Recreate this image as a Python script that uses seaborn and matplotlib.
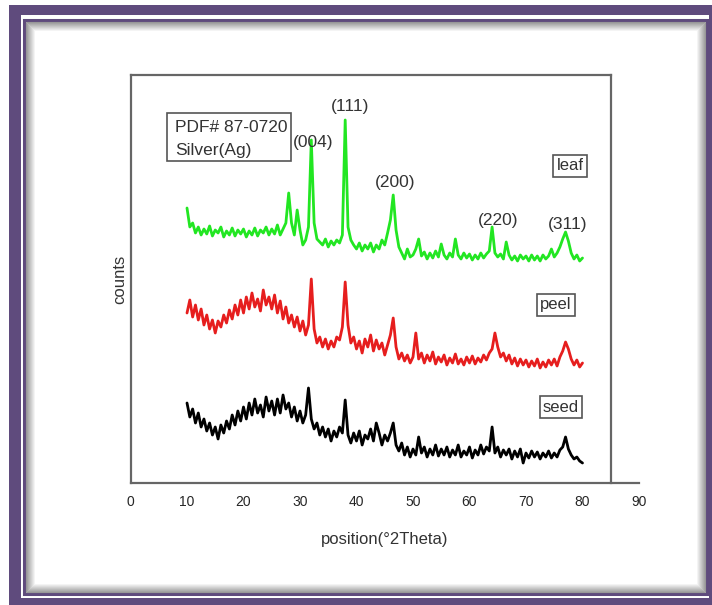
import numpy as np
import pandas as pd
import seaborn as sns
import matplotlib.pyplot as plt
from matplotlib.patches import Rectangle

# 2theta grid, 10..80 step 0.5 (141 points)
theta = np.linspace(10, 80, 141)

leaf = [277, 258, 262, 252, 258, 250, 256, 251, 259, 249,
        255, 252, 258, 248, 254, 250, 257, 249, 255, 251,
        256, 248, 254, 250, 257, 249, 255, 252, 258, 250,
        256, 251, 260, 250, 256, 262, 292, 262, 250, 275,
        255, 240, 245, 258, 345, 262, 246, 243, 240, 246,
        238, 244, 240, 245, 242, 250, 365, 258, 245, 240,
        236, 242, 234, 240, 236, 242, 233, 240, 236, 245,
        240, 252, 265, 290, 255, 238, 232, 226, 236, 228,
        230, 236, 246, 229, 233, 226, 232, 227, 234, 228,
        241, 230, 226, 232, 228, 246, 230, 226, 232, 227,
        231, 225, 230, 226, 232, 227, 231, 234, 258, 232,
        228, 231, 226, 243, 230, 225, 229, 224, 230, 226,
        229, 224, 230, 225, 229, 224, 230, 226, 229, 236,
        228, 232, 238, 246, 253, 244, 232, 226, 230, 224,
        227]

peel = [172, 185, 168, 180, 165, 176, 160, 170, 156, 165,
        152, 164, 158, 170, 162, 175, 166, 180, 170, 185,
        172, 188, 176, 192, 178, 186, 174, 195, 180, 188,
        176, 190, 172, 184, 166, 178, 162, 170, 158, 168,
        154, 164, 150, 160, 206, 156, 142, 148, 138, 146,
        136, 144, 138, 148, 145, 158, 203, 160, 142, 148,
        136, 144, 132, 146, 138, 150, 134, 145, 136, 142,
        130, 140, 150, 167, 138, 126, 132, 124, 130, 122,
        128, 152, 126, 132, 122, 130, 124, 133, 121, 128,
        123, 130, 120, 127, 122, 131, 121, 126, 120, 128,
        122, 129, 121, 127, 123, 130, 125, 132, 136, 152,
        138, 128, 132, 124, 130, 121, 127, 119, 126, 120,
        125, 118, 124, 119, 126, 117, 123, 118, 125, 120,
        126, 119, 128, 134, 143, 136, 126, 120, 125, 118,
        122]

seed = [82, 68, 76, 62, 72, 58, 66, 54, 62, 50,
        58, 46, 60, 52, 64, 56, 70, 60, 74, 64,
        78, 66, 82, 70, 86, 72, 80, 68, 88, 74,
        84, 70, 86, 72, 90, 76, 82, 68, 78, 64,
        74, 62, 70, 97, 66, 56, 62, 50, 58, 48,
        56, 44, 54, 48, 58, 52, 85, 50, 42, 52,
        44, 54, 40, 50, 46, 56, 44, 62, 52, 40,
        50, 44, 52, 62, 40, 34, 42, 30, 38, 28,
        36, 30, 48, 32, 38, 28, 36, 30, 40, 29,
        36, 30, 38, 28, 35, 30, 40, 28, 34, 30,
        38, 27, 35, 30, 40, 31, 38, 34, 58, 32,
        38, 28, 35, 30, 36, 26, 34, 28, 36, 22,
        32, 27, 34, 28, 33, 26, 32, 28, 34, 27,
        32, 28, 35, 38, 48, 36, 30, 26, 28, 24,
        22]

samples = ['leaf', 'peel', 'seed']
colors = {'leaf': '#22e622', 'peel': '#e61e1e', 'seed': '#000000'}

peak_labels = ['(111)', '(004)', '(200)', '(220)', '(311)']
peak_x = [38.8, 32.3, 46.8, 65.0, 77.3]
peak_y = [378, 343, 303, 265, 260]

df = pd.concat([
    pd.DataFrame({'theta': theta, 'counts': vals, 'sample': name})
    for name, vals in zip(samples, [leaf, peel, seed])
])

sns.set_style('white')
plt.rcParams['font.family'] = ['Liberation Sans', 'DejaVu Sans']

W, H = 712, 605
fig = plt.figure(figsize=(W / 100, H / 100), dpi=100)
fig.patch.set_facecolor('white')


def px_rect(x0, y0, x1, y1, **kw):
    # pixel box (top-left origin) -> figure rectangle
    r = Rectangle((x0 / W, 1 - y1 / H), (x1 - x0) / W, (y1 - y0) / H,
                  transform=fig.transFigure, zorder=-10, **kw)
    fig.add_artist(r)


purple = '#5f4b7d'
px_rect(9, 5, 720, 615, facecolor=purple, edgecolor='none')
px_rect(21, 15, 709, 598, facecolor='white', edgecolor='none')
px_rect(24, 20, 707, 594, facecolor='white', edgecolor=purple, lw=2.2)
# soft shadow inside the frame
for i in range(1, 11):
    g = min(1.0, 0.55 + 0.045 * i)
    px_rect(25 + i, 21 + i, 706 - i, 593 - i, facecolor='none',
            edgecolor=(g, g, g), lw=0.8)

ax = fig.add_axes([130.5 / W, 1 - 483 / H, 508.5 / W, 408 / H])
ax.patch.set_alpha(0)

sns.lineplot(data=df, x='theta', y='counts', hue='sample', palette=colors,
             estimator=None, sort=False, legend=False, lw=2.0, ax=ax)

ax.set_xlim(0, 90)
ax.set_ylim(2, 410)
ax.set_xticks(range(0, 91, 10))
ax.set_xticks(range(5, 90, 10), minor=True)
ax.set_yticks([])
ax.tick_params(axis='x', which='major', direction='out', length=5, width=1.2,
               color='#555555', labelsize=10, pad=4)
ax.tick_params(axis='x', which='minor', direction='out', length=3, width=1,
               color='#555555')

for s in ax.spines.values():
    s.set_visible(True)
    s.set_color('#666666')
    s.set_linewidth(1.6)
ax.spines['top'].set_bounds(0, 85)
ax.spines['right'].set_position(('data', 85))

ax.set_xlabel('position(°2Theta)', fontsize=12, color='#333333', labelpad=16)
ax.set_ylabel('counts', fontsize=12, color='#333333', labelpad=2)

for lab, x, y in zip(peak_labels, peak_x, peak_y):
    ax.text(x, y, lab, ha='center', va='center', fontsize=12.5, color='#333333')

ax.add_patch(Rectangle((6.5, 324), 21.9, 48, fill=False, ec='#555555', lw=1.2))
ax.text(7.9, 357, 'PDF# 87-0720', ha='left', va='center', fontsize=12.5,
        color='#333333')
ax.text(7.9, 335, 'Silver(Ag)', ha='left', va='center', fontsize=12.5,
        color='#333333')

box = dict(boxstyle='square,pad=0.2', fc='white', ec='#555555', lw=1.2)
for name, x, y in zip(samples, [77.8, 75.3, 76.2], [319, 180, 78]):
    ax.text(x, y, name, ha='center', va='center', fontsize=12,
            color='#333333', bbox=box)

fig.savefig('out.png', dpi=100)
